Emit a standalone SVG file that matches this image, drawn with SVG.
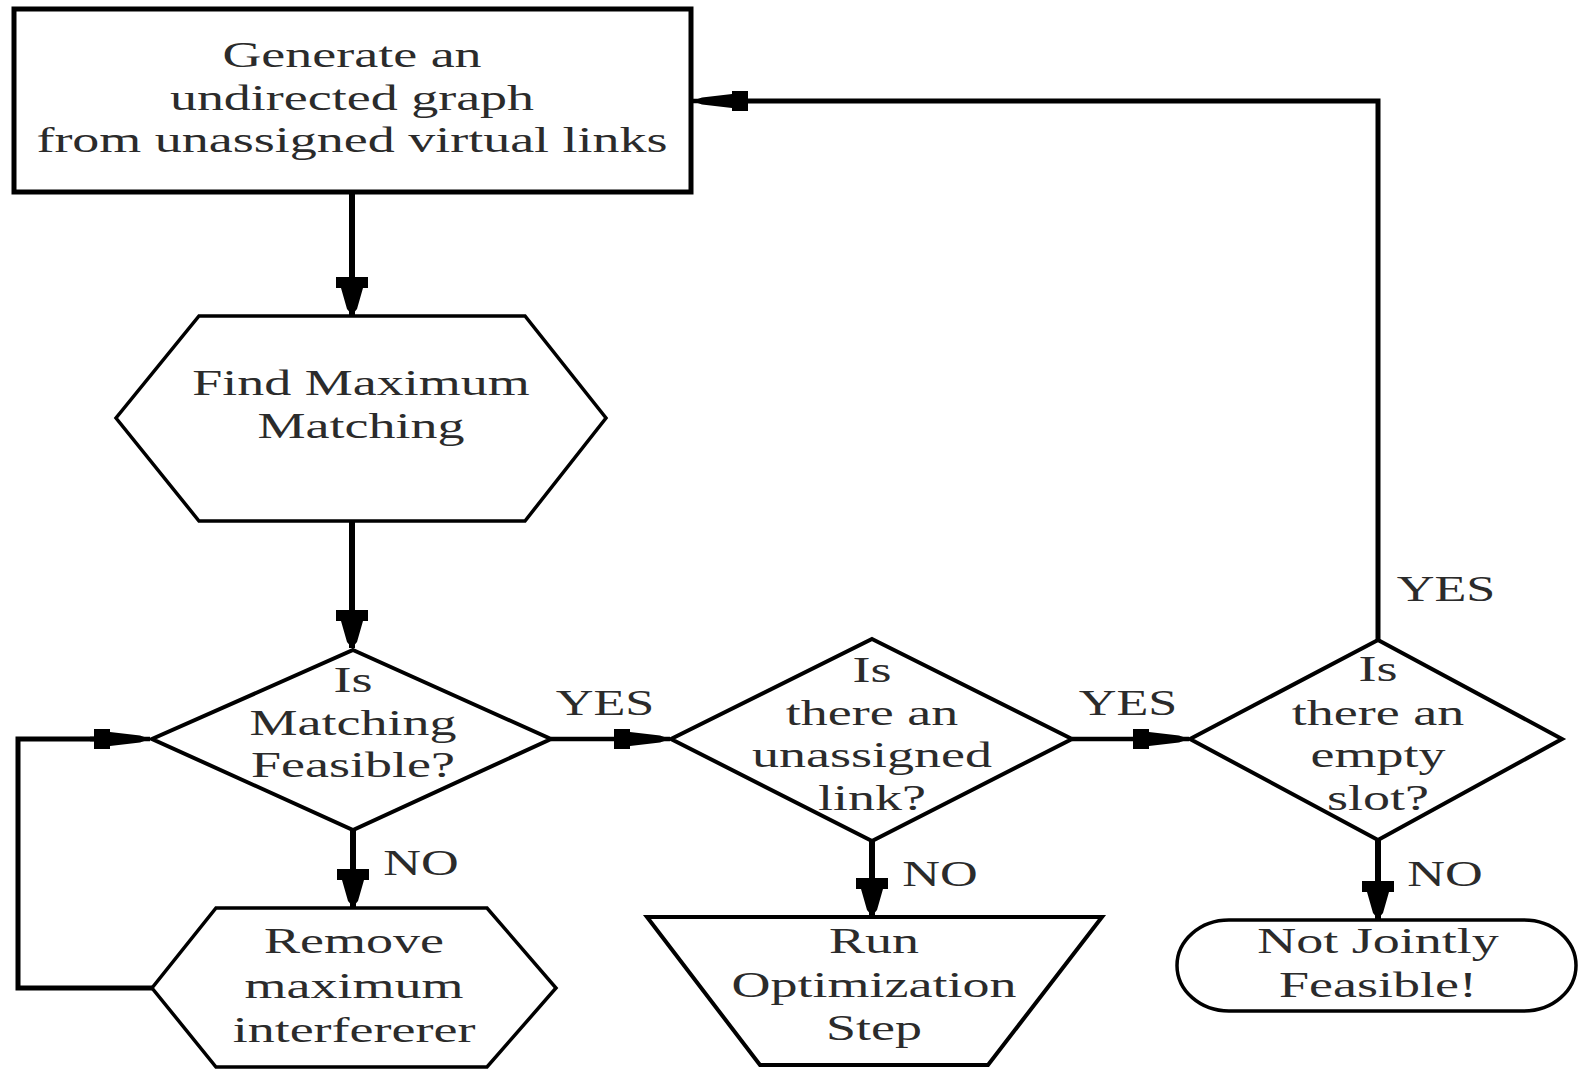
<svg xmlns="http://www.w3.org/2000/svg" width="1579" height="1069" viewBox="0 0 1579 1069">
<style>
  .shape { fill: #ffffff; stroke: #000000; stroke-linejoin: miter; }
  .t { font-family: "Liberation Serif", "Times New Roman", serif; font-size: 36px; fill: #2b2b2b; text-anchor: middle; }
  .lbl { font-family: "Liberation Serif", "Times New Roman", serif; font-size: 36px; fill: #2b2b2b; text-anchor: middle; }
  .conn { fill: none; stroke: #000000; }
  .v { stroke-width: 6; marker-end: url(#arrV); }
  .h { stroke-width: 4.5; marker-end: url(#arrH); }
</style>
<defs>
  <marker id="arrV" markerUnits="userSpaceOnUse" orient="auto" refX="0" refY="0" markerWidth="60" markerHeight="60" overflow="visible">
    <path d="M0,0 L-6,-5 L-27,-11 L-27,-16 L-38,-16 L-38,16 L-27,16 L-27,11 L-6,5 Z" fill="#000"/>
  </marker>
  <marker id="arrH" markerUnits="userSpaceOnUse" orient="auto" refX="0" refY="0" markerWidth="80" markerHeight="40" overflow="visible">
    <path d="M0,0 L-10,-3.5 L-40,-7 L-40,-10 L-56,-10 L-56,10 L-40,10 L-40,7 L-10,3.5 Z" fill="#000"/>
  </marker>
</defs>

<g id="connectors">
  <path class="conn v" d="M352,192 V315"/>
  <path class="conn v" d="M352,521 V648"/>
  <path class="conn h" d="M551,739 H670"/>
  <path class="conn h" d="M1072,739 H1189"/>
  <path class="conn" stroke-width="5" d="M1378,640 V101 H700"/>
  <path class="conn h" d="M740,101 H692"/>
  <path class="conn v" d="M353,830 V907"/>
  <path class="conn" stroke-width="5" d="M152,988 H18 V739 H100"/>
  <path class="conn h" d="M90,739 H150"/>
  <path class="conn v" d="M872,841 V916"/>
  <path class="conn v" d="M1378,840 V919"/>
  <text class="lbl" transform="translate(605,715) scale(1.45,1)">YES</text>
  <text class="lbl" transform="translate(1128,715) scale(1.45,1)">YES</text>
  <text class="lbl" transform="translate(1446,601) scale(1.45,1)">YES</text>
  <text class="lbl" transform="translate(421,875) scale(1.45,1)">NO</text>
  <text class="lbl" transform="translate(940,886) scale(1.45,1)">NO</text>
  <text class="lbl" transform="translate(1445,886) scale(1.45,1)">NO</text>
</g>

<g id="generate">
  <rect class="shape" x="14" y="9" width="677" height="183" stroke-width="5"/>
  <text class="t" transform="translate(352,67) scale(1.5,1)">Generate an</text>
  <text class="t" transform="translate(352,110) scale(1.5,1)">undirected graph</text>
  <text class="t" transform="translate(352,152) scale(1.5,1)">from unassigned virtual links</text>
</g>

<g id="find-matching">
  <polygon class="shape" stroke-width="3.5" points="199,316 525,316 606,418 525,521 199,521 116,418"/>
  <text class="t" transform="translate(361,395) scale(1.5,1)">Find Maximum</text>
  <text class="t" transform="translate(361,438) scale(1.5,1)">Matching</text>
</g>

<g id="matching-feasible">
  <polygon class="shape" stroke-width="4" points="353,650 551,739 353,830 152,739"/>
  <text class="t" transform="translate(353,692) scale(1.5,1)">Is</text>
  <text class="t" transform="translate(353,735) scale(1.5,1)">Matching</text>
  <text class="t" transform="translate(353,777) scale(1.5,1)">Feasible?</text>
</g>

<g id="unassigned-link">
  <polygon class="shape" stroke-width="4" points="872,639 1072,739 872,841 671,739"/>
  <text class="t" transform="translate(872,682) scale(1.5,1)">Is</text>
  <text class="t" transform="translate(872,725) scale(1.5,1)">there an</text>
  <text class="t" transform="translate(872,767) scale(1.5,1)">unassigned</text>
  <text class="t" transform="translate(872,810) scale(1.5,1)">link?</text>
</g>

<g id="empty-slot">
  <polygon class="shape" stroke-width="4" points="1378,640 1562,739 1378,840 1190,739"/>
  <text class="t" transform="translate(1378,681) scale(1.5,1)">Is</text>
  <text class="t" transform="translate(1378,725) scale(1.5,1)">there an</text>
  <text class="t" transform="translate(1378,767) scale(1.5,1)">empty</text>
  <text class="t" transform="translate(1378,810) scale(1.5,1)">slot?</text>
</g>

<g id="remove-interferer">
  <polygon class="shape" stroke-width="3.5" points="216,908 487,908 556,988 487,1067 216,1067 152,988"/>
  <text class="t" transform="translate(354,953) scale(1.5,1)">Remove</text>
  <text class="t" transform="translate(354,998) scale(1.5,1)">maximum</text>
  <text class="t" transform="translate(354,1042) scale(1.5,1)">interfererer</text>
</g>

<g id="run-optimization">
  <polygon class="shape" stroke-width="4" points="647,917 1102,917 988,1065 760,1065"/>
  <text class="t" transform="translate(874,953) scale(1.5,1)">Run</text>
  <text class="t" transform="translate(874,997) scale(1.5,1)">Optimization</text>
  <text class="t" transform="translate(874,1040) scale(1.5,1)">Step</text>
</g>

<g id="not-feasible">
  <rect class="shape" x="1177" y="920" width="399" height="91" rx="52" ry="46" stroke-width="3.5"/>
  <text class="t" transform="translate(1378,953) scale(1.5,1)">Not Jointly</text>
  <text class="t" transform="translate(1378,997) scale(1.5,1)">Feasible!</text>
</g>
</svg>
